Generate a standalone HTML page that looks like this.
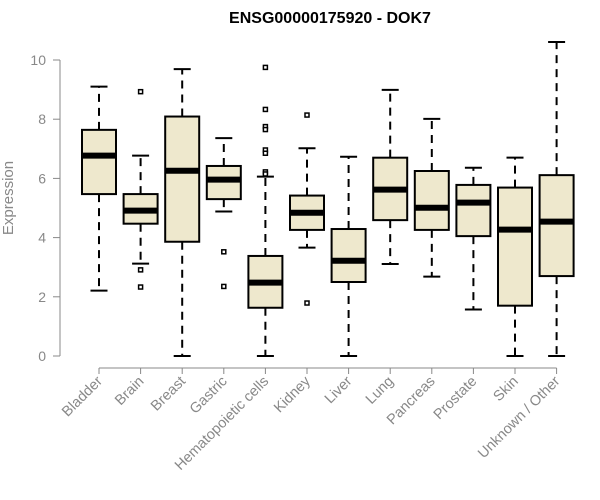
<!DOCTYPE html>
<html><head><meta charset="utf-8"><style>
body{margin:0;background:#fff;}
svg{display:block;font-family:"Liberation Sans",Arial,sans-serif;}
</style></head><body>
<svg id="chart" width="600" height="500" viewBox="0 0 600 500" xmlns="http://www.w3.org/2000/svg">
<text x="330" y="23" text-anchor="middle" font-size="16" font-weight="bold" fill="#000">ENSG00000175920 - DOK7</text>
<text transform="translate(13,198) rotate(-90)" text-anchor="middle" font-size="15" fill="#888">Expression</text>
<g id="axes"></g>
<g id="boxes"></g>
</svg>
<script>
const categories=["Bladder","Brain","Breast","Gastric","Hematopoietic cells","Kidney","Liver","Lung","Pancreas","Prostate","Skin","Unknown / Other"];
const whiskerLow=[2.21,3.12,0,4.88,0,3.66,0,3.11,2.68,1.57,0,0];
const q1=[5.47,4.47,3.86,5.30,1.63,4.26,2.50,4.59,4.26,4.05,1.70,2.70];
const medians=[6.77,4.91,6.26,5.96,2.48,4.84,3.22,5.62,5.01,5.18,4.27,4.54];
const q3=[7.64,5.47,8.09,6.42,3.38,5.42,4.29,6.70,6.25,5.78,5.69,6.11];
const whiskerHigh=[9.10,6.77,9.69,7.36,6.06,7.02,6.73,8.99,8.01,6.36,6.70,10.61];
const outliers=[[],[8.93,2.91,2.33],[],[3.52,2.35],[9.75,8.33,7.75,7.65,6.96,6.85,6.22,6.15],[8.14,1.79],[],[],[],[],[],[]];
const yTicks=[0,2,4,6,8,10];

const NS="http://www.w3.org/2000/svg";
const y=v=>356-v*29.6;
const x=i=>99+i*41.6;
function mk(tag,attrs,parent){const e=document.createElementNS(NS,tag);for(const k in attrs)e.setAttribute(k,attrs[k]);parent.appendChild(e);return e;}
const axes=document.getElementById('axes');
const boxes=document.getElementById('boxes');

let yl=mk('line',{x1:60,x2:60,y1:y(10),y2:y(0),stroke:'#888','stroke-width':1},axes);


yTicks.forEach(t=>{
  let tk=mk('line',{x1:53,x2:60,y1:y(t),y2:y(t),stroke:'#888'},axes);
  
  
  let tl=mk('text',{x:46,y:y(t)+5,'text-anchor':'end','font-size':14,fill:'#888'},axes);
  tl.textContent=t;
  
  
});
let xl=mk('line',{x1:x(0),x2:x(categories.length-1),y1:368,y2:368,stroke:'#888'},axes);



categories.forEach((c,i)=>{
  const cx=x(i),hw=17,cw=8.5;
  let tk=mk('line',{x1:cx,x2:cx,y1:368,y2:374,stroke:'#888'},axes);
  
  
  let tl=mk('text',{transform:`translate(${cx+4},${382}) rotate(-45)`,'text-anchor':'end','font-size':14.5,fill:'#888'},axes);
  tl.textContent=c;
  
  

  const g=mk('g',{},boxes);
  
  
  mk('line',{x1:cx,x2:cx,y1:y(q3[i]),y2:y(whiskerHigh[i]),stroke:'#000','stroke-width':2,'stroke-dasharray':'8,6'},g);
  mk('line',{x1:cx,x2:cx,y1:y(q1[i]),y2:y(whiskerLow[i]),stroke:'#000','stroke-width':2,'stroke-dasharray':'8,6'},g);
  mk('line',{x1:cx-cw,x2:cx+cw,y1:y(whiskerHigh[i]),y2:y(whiskerHigh[i]),stroke:'#000','stroke-width':2},g);
  mk('line',{x1:cx-cw,x2:cx+cw,y1:y(whiskerLow[i]),y2:y(whiskerLow[i]),stroke:'#000','stroke-width':2},g);
  mk('rect',{x:cx-hw,y:y(q3[i]),width:hw*2,height:y(q1[i])-y(q3[i]),fill:'#EEE8CD',stroke:'#000','stroke-width':2},g);
  mk('line',{x1:cx-hw,x2:cx+hw,y1:y(medians[i]),y2:y(medians[i]),stroke:'#000','stroke-width':6},g);
  outliers[i].forEach(o=>{
    let p=mk('rect',{x:cx-2,y:y(o)-2,width:4,height:4,fill:'#fff',stroke:'#000','stroke-width':1.5},g);
    
    
  });
});
</script>
</body></html>
